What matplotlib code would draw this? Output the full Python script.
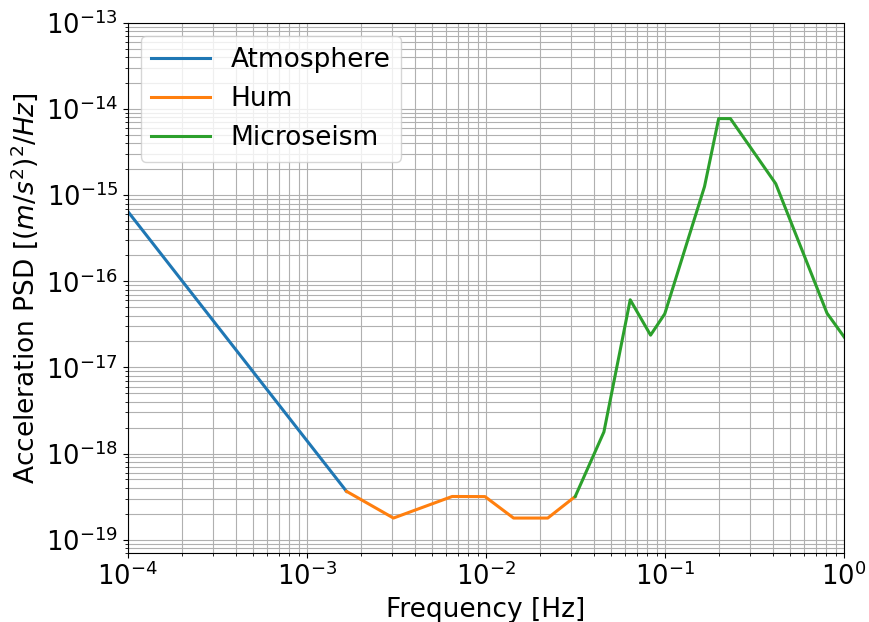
import numpy as np
import matplotlib
matplotlib.use("Agg")
import matplotlib.pyplot as plt

# Acceleration PSD, [(m/s^2)^2/Hz]
atmos_freq = [1.0e-4, 1.667e-3]
atmos_psd = [6.5e-16, 3.64e-19]

hum_freq = [1.667e-3, 3.05e-3, 6.49e-3, 9.9e-3, 1.43e-2, 2.22e-2, 3.16e-2]
hum_psd = [3.64e-19, 1.78e-19, 3.17e-19, 3.16e-19, 1.78e-19, 1.78e-19, 3.17e-19]

micro_freq = [3.16e-2, 4.57e-2, 6.41e-2, 8.33e-2, 0.1, 0.1667, 0.2, 0.2326,
              0.4167, 0.806, 1.25]
micro_psd = [3.17e-19, 1.78e-18, 6.1e-17, 2.37e-17, 4.2e-17, 1.26e-15,
             7.76e-15, 7.76e-15, 1.36e-15, 4.26e-17, 1.2e-17]

plt.rcParams["font.size"] = 18

fig, ax = plt.subplots(figsize=(8.69, 6.22), dpi=100)
ax.loglog(atmos_freq, atmos_psd, lw=2.2, label="Atmosphere")
ax.loglog(hum_freq, hum_psd, lw=2.2, label="Hum")
ax.loglog(micro_freq, micro_psd, lw=2.2, label="Microseism")

ax.set_xlim(1e-4, 1)
ax.set_ylim(7e-20, 1e-13)
ax.grid(True, which="both")
ax.tick_params(labelsize=18.5)
ax.set_xlabel("Frequency [Hz]", fontsize=19)
ax.set_ylabel("Acceleration PSD [$(m/s^2)^2/Hz$]", fontsize=19)
ax.legend(loc="upper left", fontsize=19, handlelength=2.2)

fig.subplots_adjust(left=0.147, right=0.971, top=0.963, bottom=0.111)
fig.savefig("out.png")
